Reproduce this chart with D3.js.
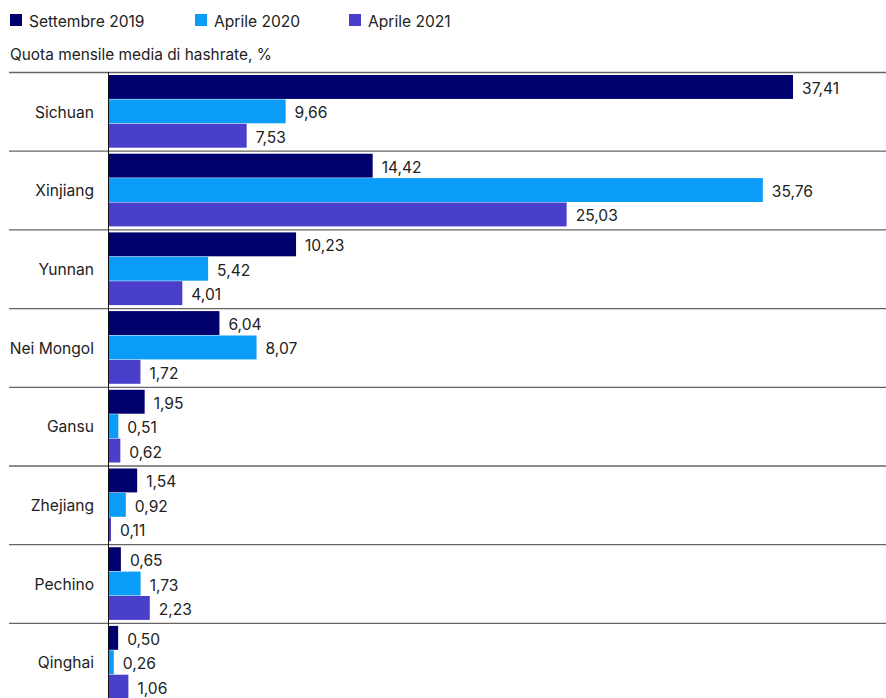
<!DOCTYPE html>
<html><head><meta charset="utf-8">
<script src="https://cdn.jsdelivr.net/npm/d3@7"></script>
<style>
html,body{margin:0;padding:0;background:#fff;overflow:hidden;}
text{font-family:Inter, "Noto Sans", sans-serif;fill:#222;}
</style></head>
<body><svg id="c" width="886" height="698"></svg>
<script>
const categories = ["Sichuan","Xinjiang","Yunnan","Nei Mongol","Gansu","Zhejiang","Pechino","Qinghai"];
const seriesNames = ["Settembre 2019","Aprile 2020","Aprile 2021"];
const sep2019 = [37.41,14.42,10.23,6.04,1.95,1.54,0.65,0.50];
const apr2020 = [9.66,35.76,5.42,8.07,0.51,0.92,1.73,0.26];
const apr2021 = [7.53,25.03,4.01,1.72,0.62,0.11,2.23,1.06];
const colors = ["#00006f","#0a9cf7","#4a3fcb"];
const subtitle = "Quota mensile media di hashrate, %";

const series = [sep2019, apr2020, apr2021];
const svg = d3.select("#c");
const x0 = 109;
const x = d3.scaleLinear().domain([0, 37.41]).range([x0, 793]);
const y = d3.scaleBand().domain(categories).range([72, 72 + 78.7*8]).paddingInner(0).paddingOuter(0);
const inner = d3.scaleBand().domain(d3.range(3)).range([3, 78.7-3]).paddingInner(0.02);
const fmt = v => d3.format(".2f")(v).replace(".", ",");
const fs = 15.6;

// legend
const legX = [10, 195, 349];
seriesNames.forEach((n,i)=>{
  svg.append("rect").attr("x",legX[i]).attr("y",14).attr("width",12).attr("height",12).attr("fill",colors[i]);
  svg.append("text").attr("x",legX[i]+19).attr("y",26.5).attr("font-size",fs).text(n);
});
svg.append("text").attr("x",10).attr("y",60).attr("font-size",15.4).text(subtitle);

// separators
categories.forEach(c=>{
  svg.append("line").attr("x1",9).attr("x2",886).attr("y1",y(c)+0.5).attr("y2",y(c)+0.5)
    .attr("stroke","#666").attr("stroke-width",1.3);
});

const g = svg.append("g");
categories.forEach((c,ci)=>{
  series.forEach((s,si)=>{
    const v = s[ci];
    const by = y(c) + inner(si);
    g.append("rect").attr("x",x(0)).attr("y",by).attr("width",x(v)-x(0)).attr("height",inner.bandwidth())
      .attr("fill",colors[si]);
    g.append("text").attr("x",x(v)+9).attr("y",by+inner.bandwidth()/2).attr("dy","0.45em")
      .attr("font-size",fs).text(fmt(v));
  });
  svg.append("text").attr("x",94).attr("y",y(c)+y.bandwidth()/2).attr("dy","0.4em")
    .attr("text-anchor","end").attr("font-size",fs).text(c);
});

svg.append("line").attr("x1",x0-0.5).attr("x2",x0-0.5).attr("y1",72).attr("y2",698).attr("stroke","#111").attr("stroke-width",1);
</script></body></html>
